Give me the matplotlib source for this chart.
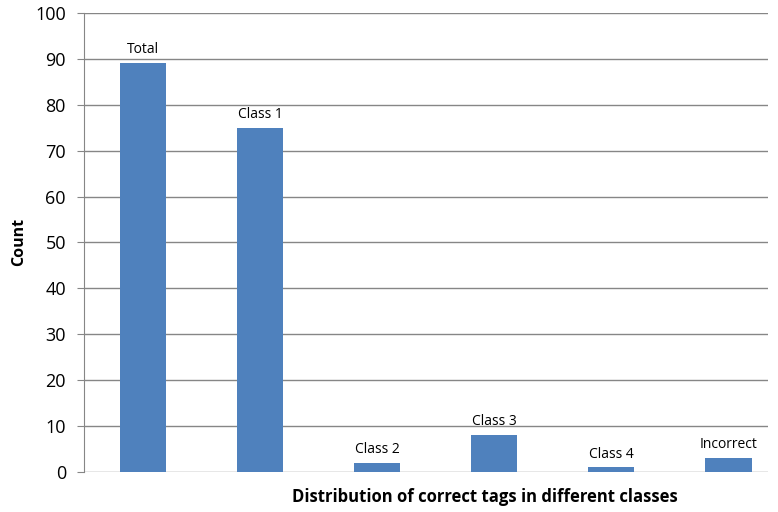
import matplotlib
matplotlib.use('Agg')
import matplotlib.pyplot as plt

categories = ['Total', 'Class 1', 'Class 2', 'Class 3', 'Class 4', 'Incorrect']
counts = [89, 75, 2, 8, 1, 3]

plt.rcParams['font.family'] = ['Open Sans', 'DejaVu Sans']

fig = plt.figure(figsize=(7.78, 5.12), dpi=100)
ax = fig.add_axes([0.108, 0.078, 0.879, 0.897])

x = list(range(len(categories)))
bars = ax.bar(x, counts, width=0.4, color='#4F81BD', zorder=3)

for bar, name in zip(bars, categories):
    ax.text(bar.get_x() + bar.get_width() / 2, bar.get_height() + 1.3, name,
            ha='center', va='bottom', fontsize=10, color='#000000')

ax.set_ylim(0, 100)
ax.set_xlim(-0.504, 5.34)
ax.set_yticks(range(0, 101, 10))
ax.set_xticks([])
ax.yaxis.grid(True, color='#868686', linewidth=1, zorder=0)
ax.tick_params(axis='y', labelsize=13, length=5, color='#868686', pad=8)

for side in ['top', 'right', 'bottom']:
    ax.spines[side].set_visible(False)
ax.spines['left'].set_color('#868686')

ax.set_ylabel('Count', fontsize=11.5, fontweight='bold', labelpad=6)
ax.set_xlabel('Distribution of correct tags in different classes', fontsize=12,
              fontweight='bold')
ax.xaxis.set_label_coords(0.586, -0.035, transform=ax.transAxes)
ax.xaxis.label.set_va('top')

plt.savefig('out.png', dpi=100)
